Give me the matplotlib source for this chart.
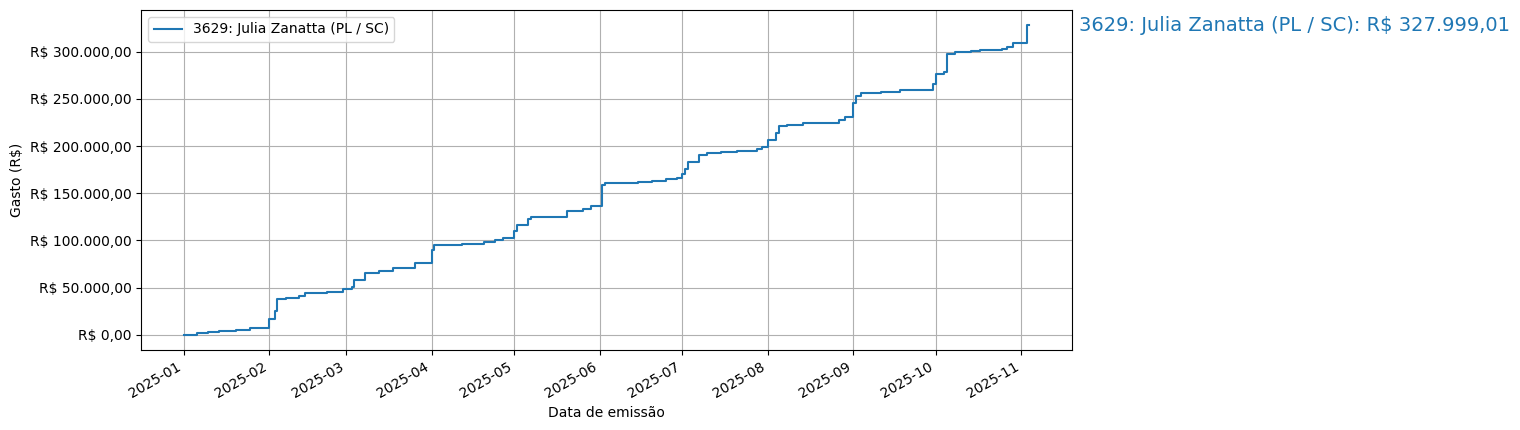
import matplotlib.pyplot as plt
import matplotlib.ticker as mticker
import pandas as pd

datas = [
    "2025-01-01", "2025-01-06", "2025-01-10", "2025-01-14", "2025-01-20", "2025-01-25",
    "2025-02-01", "2025-02-03", "2025-02-04", "2025-02-07", "2025-02-12", "2025-02-14",
    "2025-02-22", "2025-02-28", "2025-03-03", "2025-03-04", "2025-03-08", "2025-03-13",
    "2025-03-18", "2025-03-26", "2025-04-01", "2025-04-02", "2025-04-12", "2025-04-20",
    "2025-04-24", "2025-04-27", "2025-05-01", "2025-05-02", "2025-05-06", "2025-05-07",
    "2025-05-20", "2025-05-26", "2025-05-29", "2025-06-02", "2025-06-03", "2025-06-15",
    "2025-06-20", "2025-06-25", "2025-06-29", "2025-07-01", "2025-07-02", "2025-07-03",
    "2025-07-07", "2025-07-10", "2025-07-15", "2025-07-21", "2025-07-28", "2025-07-30",
    "2025-08-01", "2025-08-04", "2025-08-05", "2025-08-08", "2025-08-14", "2025-08-21",
    "2025-08-27", "2025-08-29", "2025-09-01", "2025-09-02", "2025-09-04", "2025-09-11",
    "2025-09-18", "2025-09-25", "2025-09-30", "2025-10-01", "2025-10-04", "2025-10-05",
    "2025-10-08", "2025-10-14", "2025-10-17", "2025-10-25", "2025-10-27", "2025-10-29",
    "2025-11-03", "2025-11-04",
]
gasto_acumulado = [
    300, 1500, 3000, 4500, 5500, 7000,
    17000, 25000, 38000, 39000, 41000, 44000,
    45000, 49000, 51000, 58000, 66000, 68000,
    71000, 76000, 90000, 95000, 96000, 98000,
    100000, 103000, 110000, 116000, 123000, 125000,
    131000, 133000, 137000, 159000, 161000, 162000,
    163000, 165000, 166000, 170000, 176000, 183000,
    191000, 193000, 194000, 195000, 197000, 199000,
    206000, 214000, 221000, 222000, 224000, 225000,
    228000, 231000, 246000, 253000, 256000, 257000,
    259000, 260000, 266000, 276000, 279000, 298000,
    300000, 301000, 302000, 303000, 305000, 309000,
    327999.01, 327999.01,
]
rotulo = "3629: Julia Zanatta (PL / SC)"
total = 327999.01


def brl(v, pos=None):
    s = f"{v:,.2f}".replace(",", "X").replace(".", ",").replace("X", ".")
    return f"R$ {s}"


fig = plt.figure(figsize=(15.2, 4.3), dpi=100)
ax = fig.add_axes([0.093, 0.186, 0.612, 0.791])
ax.step(pd.to_datetime(datas), gasto_acumulado, where="post", label=rotulo, color="#1f77b4")
ax.yaxis.set_major_formatter(mticker.FuncFormatter(brl))
ax.set_ylabel("Gasto (R$)")
ax.set_xlabel("Data de emissão")
ax.grid(True)
ax.legend(loc="upper left")
fig.autofmt_xdate()
ax.set_position([0.093, 0.186, 0.612, 0.791])
fig.text(0.71, 0.94, f"{rotulo}: {brl(total)}", color="#1f77b4", fontsize=14, va="center")

fig.savefig("out.png", dpi=100)
